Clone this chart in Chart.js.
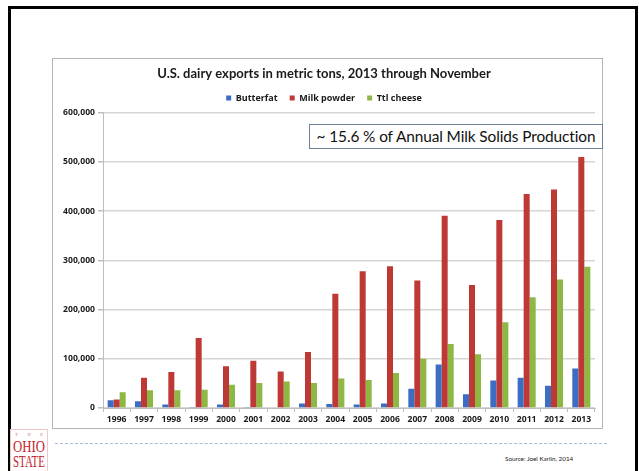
<!DOCTYPE html>
<html>
<head>
<meta charset="utf-8">
<script src="https://cdn.jsdelivr.net/npm/chart.js@4.4.1/dist/chart.umd.min.js"></script>
<style>
  html, body { margin: 0; padding: 0; background: #fff; }
  body { width: 639px; height: 471px; position: relative; overflow: hidden; font-family: Lato, "Open Sans", sans-serif; }
  .slide-frame { position: absolute; left: 8px; top: 6px; width: 624px; height: 480px; border: 3px solid #000; border-bottom: none; box-sizing: content-box; }
  .chart-box { position: absolute; left: 52px; top: 58px; width: 549px; height: 369px; border: 1px solid #b4b4b4; background: #fff; }
  .chart-box canvas { display: block; }
  .note { position: absolute; left: 309px; top: 124px; width: 294px; height: 25px; border: 1px solid #6f819c; background: #fff; box-sizing: border-box;
          font-family: Lato, sans-serif; font-size: 15.4px; color: #111; line-height: 23px; text-align: center; white-space: nowrap; letter-spacing: -0.1px; }
  .rule { position: absolute; left: 55px; top: 443px; width: 552px; border-top: 1px dashed #a9bcd6; }
  .source { position: absolute; left: 505px; top: 455px; font-family: Lato, sans-serif; font-size: 6.3px; color: #222; white-space: nowrap; }
  .logo { position: absolute; left: 10px; top: 429px; width: 38px; height: 46px; background: #fff; border: 1px solid #f0c8c8; box-sizing: border-box; }
  .logo svg { display: block; }
</style>
</head>
<body>
<div class="slide-frame"></div>
<div class="chart-box"><canvas id="exports" width="549" height="369"></canvas></div>
<div class="note">~ 15.6 % of Annual Milk Solids Production</div>
<div class="rule"></div>
<div class="source">Source: Joel Karlin, 2014</div>
<div class="logo">
  <svg width="36" height="44" viewBox="0 0 36 44">
    <g fill="#c4222b" font-family="Liberation Serif, DejaVu Serif, serif">
      <text x="4" y="6" font-size="4.5" textLength="28" lengthAdjust="spacing" fill="#d46a6f">THE</text>
      <text x="2" y="22" font-size="17" textLength="32" lengthAdjust="spacingAndGlyphs">OHIO</text>
      <text x="2" y="37" font-size="17" textLength="32" lengthAdjust="spacingAndGlyphs">STATE</text>
    </g>
  </svg>
</div>
<script>
// Years on the category axis
const years = ['1996','1997','1998','1999','2000','2001','2002','2003','2004','2005','2006','2007','2008','2009','2010','2011','2012','2013'];

// Export volumes, metric tons
const butterfat   = [15500, 13500, 7000, 2000, 7000, 2000, 1500, 9000, 8000, 7000, 9000, 39000, 88500, 28000, 56000, 61500, 45000, 80000];
const milkPowder  = [17500, 61500, 73000, 142000, 85000, 96000, 74000, 113500, 232000, 278000, 288000, 259000, 390500, 250000, 382000, 434500, 444000, 510000];
const ttlCheese   = [32000, 36000, 36000, 37000, 47000, 51000, 54000, 51000, 60000, 57000, 71000, 100000, 130000, 109000, 174000, 225000, 261000, 287000];

// Value-axis labels, bottom to top
const yTickLabels = ['0', '100,000', '200,000', '300,000', '400,000', '500,000', '600,000'];

const seriesNames = ['Butterfat', 'Milk powder', 'Ttl cheese'];
const seriesColors = ['#3d6dc2', '#be3836', '#8cb843'];

const gridGray = '#d6d6d6';
const axisFont = { family: '"Open Sans", sans-serif', size: 8.6, weight: 'bold' };

new Chart(document.getElementById('exports'), {
  type: 'bar',
  data: {
    labels: years,
    datasets: [butterfat, milkPowder, ttlCheese].map((values, i) => ({
      label: seriesNames[i],
      data: values,
      backgroundColor: seriesColors[i],
      borderWidth: 0,
      categoryPercentage: 0.66,
      barPercentage: 1.0
    }))
  },
  options: {
    responsive: false,
    animation: false,
    devicePixelRatio: 1,
    layout: { padding: { top: 0, right: 7, bottom: 0, left: 0 } },
    plugins: {
      title: {
        display: true,
        text: 'U.S. dairy exports in metric tons, 2013 through November',
        color: '#1a1a1a',
        font: { family: 'Lato, sans-serif', size: 13, weight: 'bold' },
        padding: { top: 7, bottom: 0 }
      },
      legend: {
        display: true,
        position: 'top',
        labels: {
          color: '#1a1a1a',
          font: { family: '"Open Sans", sans-serif', size: 9, weight: 'bold' },
          boxWidth: 5,
          boxHeight: 5,
          padding: 12
        }
      },
      tooltip: { enabled: false }
    },
    scales: {
      x: {
        grid: { display: true, drawOnChartArea: false, drawTicks: true, tickLength: 4, color: '#bdbdbd', offset: true },
        border: { display: true, color: '#bdbdbd', width: 1 },
        ticks: { color: '#1a1a1a', font: axisFont, padding: 2, maxRotation: 0, autoSkip: false },
        afterFit: (scale) => { scale.height = 20; }
      },
      y: {
        min: 0,
        max: 600000,
        grid: { color: gridGray, lineWidth: 1.5, drawTicks: true, tickLength: 5, tickColor: '#bdbdbd' },
        border: { display: true, color: '#bdbdbd', width: 1 },
        ticks: {
          stepSize: 100000,
          color: '#1a1a1a',
          font: axisFont,
          padding: 3,
          callback: (value, index) => yTickLabels[index]
        },
        afterFit: (scale) => { scale.width = 50; }
      }
    }
  }
});
</script>
</body>
</html>
